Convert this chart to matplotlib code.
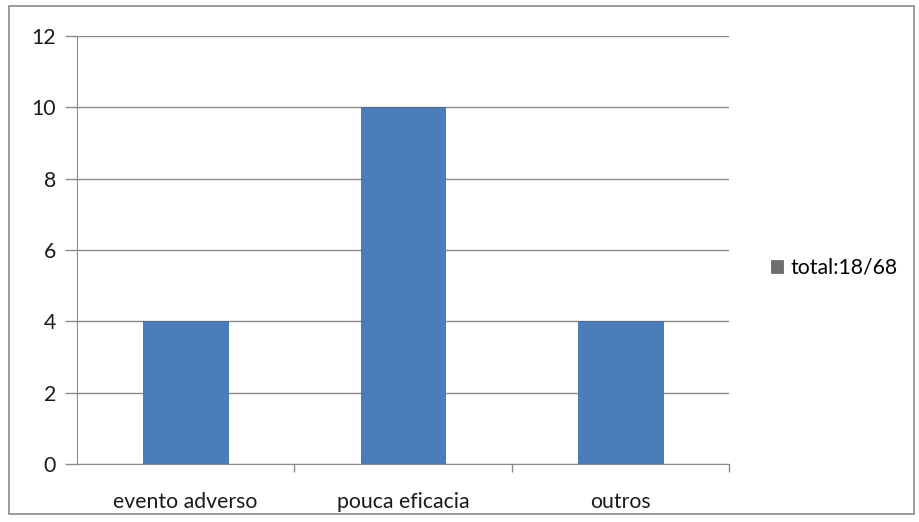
import matplotlib.pyplot as plt
from matplotlib.patches import Rectangle

categories = ["evento adverso", "pouca eficacia", "outros"]
values = [4, 10, 4]
series_label = "total:18/68"
yticks = [0, 2, 4, 6, 8, 10, 12]

plt.rcParams['font.family'] = ['Lato', 'DejaVu Sans']
FS = 15.3

W, H = 919, 522
fig = plt.figure(figsize=(W / 100, H / 100), dpi=100)

# outer chart frame
fig.patches.append(Rectangle((9 / W, 8 / H), (914 - 9) / W, (516 - 8) / H,
                             transform=fig.transFigure, fill=False,
                             edgecolor="#8c8c8c", linewidth=1.2))

ax = fig.add_axes([77 / W, 1 - 464 / H, (729 - 77) / W, (464 - 36) / H])

x = range(len(categories))
bars = ax.bar(x, values, width=0.39, color="#4a7ebb", edgecolor="#3f6fa8",
              linewidth=0.6, zorder=3, label=series_label)

ax.set_xlim(-0.5, len(categories) - 0.5)
ax.set_ylim(0, 12)
ax.set_yticks(yticks)
ax.yaxis.grid(True, color="#8a8a8a", linewidth=1.0)
ax.set_axisbelow(True)

for side in ["top", "right"]:
    ax.spines[side].set_visible(False)
ax.spines["left"].set_color("#8a8a8a")
ax.spines["bottom"].set_color("#8a8a8a")

ax.set_xticks(list(x))
ax.set_xticklabels(categories)
ax.tick_params(axis="x", length=0, pad=20, labelsize=FS, colors="#1a1a1a")
ax.tick_params(axis="y", length=9, width=1, color="#8a8a8a", pad=6,
               labelsize=FS, labelcolor="#1a1a1a")

# category separator ticks on the x axis
ax.set_xticks([0.5, 1.5, 2.5], minor=True)
ax.tick_params(axis="x", which="minor", length=6, width=1, color="#8a8a8a")

leg = fig.legend(handles=[bars], labels=[series_label], loc="center left",
                 bbox_to_anchor=(752 / W, 1 - 268 / H), frameon=False,
                 fontsize=FS, handlelength=0.55, handleheight=0.55,
                 handletextpad=0.35)
leg.legend_handles[0].set_color("#6e6e6e")

fig.savefig("out.png", dpi=100, facecolor="white")
